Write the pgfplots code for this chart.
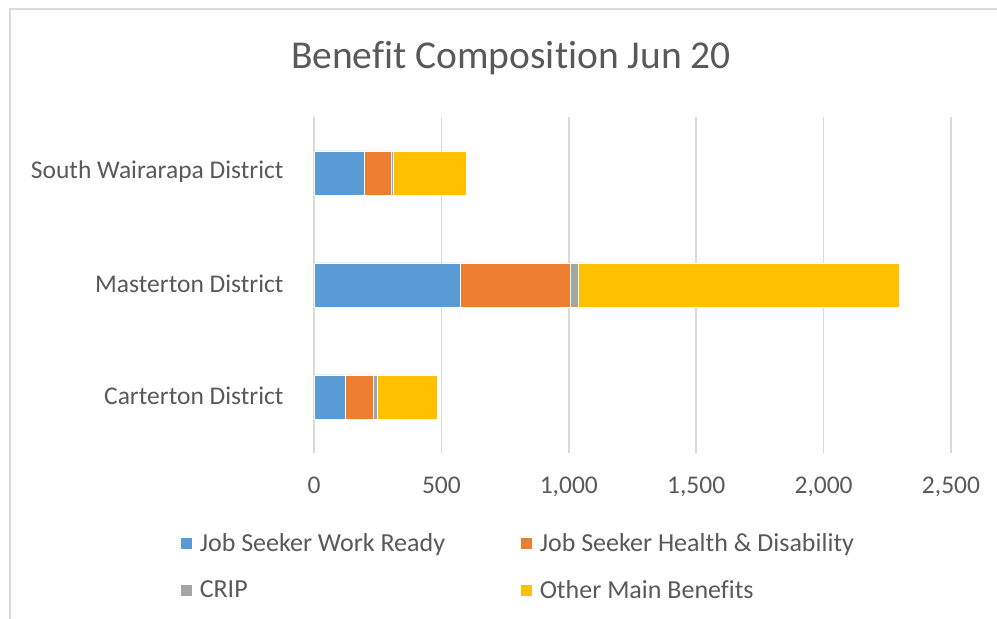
\documentclass[border=0pt]{standalone}
\usepackage{pgfplots}
\pgfplotsset{compat=1.18}
\usepackage{fontspec}
\setmainfont{Carlito}[Ligatures=NoCommon, RawFeature=-liga]
\definecolor{cblue}{HTML}{5B9BD5}
\definecolor{corange}{HTML}{ED7D31}
\definecolor{cgray}{HTML}{A5A5A5}
\definecolor{cyellow}{HTML}{FFC000}
\definecolor{ctext}{HTML}{595959}
\definecolor{cgrid}{HTML}{D9D9D9}
\begin{document}
\begin{tikzpicture}
\useasboundingbox (0,0) rectangle (997bp,619bp);
\draw[cgrid, line width=2bp] (10bp,0) -- (10bp,610bp) -- (997bp,610bp);
\begin{axis}[
  at={(314bp,166bp)}, anchor=south west,
  scale only axis, width=637bp, height=336bp,
  xbar stacked, bar width=44bp,
  xmin=0, xmax=2500, ymin=-0.5, ymax=2.5,
  xtick={0,500,1000,1500,2000,2500},
  ytick={0,1,2},
  yticklabels={Carterton District, Masterton District, South Wairarapa District},
  axis line style={draw=none},
  major tick length=0pt,
  xmajorgrids, major grid style={cgrid, line width=1.5bp},
  tick label style={font=\fontsize{25.5bp}{30bp}\selectfont, text=ctext},
  /pgf/number format/assume math mode=true,
  /pgf/number format/1000 sep={,},
  xticklabel style={yshift=-20bp},
  yticklabel style={xshift=-27bp, yshift=1bp},
  title={Benefit Composition Jun 20},
  title style={at={(0.3093,1)}, anchor=base, yshift=42.7bp, font=\fontsize{39.5bp}{44bp}\selectfont, text=ctext},
  legend columns=2,
  legend style={at={(-0.2104,-0.238)}, anchor=north west, draw=none, fill=none,
    inner sep=0pt, outer sep=0pt,
    nodes={inner sep=0pt, anchor=west},
    font=\fontsize{26bp}{30bp}\selectfont, text=ctext,
    /tikz/every odd column/.append style={column sep=7.4bp},
    /tikz/every even column/.append style={column sep=75bp},
    row sep=28bp},
  legend image code/.code={\fill[#1] (0bp,-6bp) rectangle (12bp,6bp);},
]
\addplot[fill=cblue, draw=white, line width=0.4bp] coordinates {(123,0) (575,1) (198,2)};
\addplot[fill=corange, draw=white, line width=0.4bp] coordinates {(109,0) (429,1) (104,2)};
\addplot[fill=cgray, draw=white, line width=0.4bp] coordinates {(15,0) (33,1) (9,2)};
\addplot[fill=cyellow, draw=white, line width=0.4bp] coordinates {(236,0) (1258,1) (285,2)};
\legend{Job Seeker Work Ready, Job Seeker Health \& Disability, CRIP, Other Main Benefits}
\end{axis}
\end{tikzpicture}
\end{document}
